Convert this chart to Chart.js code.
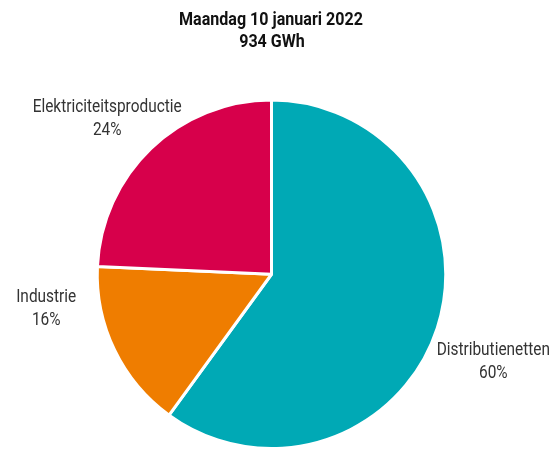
<!DOCTYPE html>
<html>
<head>
<meta charset="utf-8">
<script src="https://cdn.jsdelivr.net/npm/chart.js@4"></script>
<style>
html,body{margin:0;padding:0;background:#fff;}
#wrap{position:relative;width:553px;height:450px;}
</style>
</head>
<body>
<div id="wrap"><canvas id="c" width="553" height="450"></canvas></div>
<script>
const categories = ["Distributienetten", "Industrie", "Elektriciteitsproductie"];
const shares = [60.0, 15.7, 24.3];
const titleLines = ["Maandag 10 januari 2022", "934 GWh"];
const colors = ["#00a9b5", "#ef7d00", "#d7004b"];

const FONT = 'Roboto, "Liberation Sans", sans-serif';
const LABEL_FONT = '19px ' + FONT;
const TITLE_FONT = 'bold 19px ' + FONT;

// condensed look: horizontal squeeze factor for the installed font
function squeezeFor(ctx, font, sample, target) {
  ctx.save();
  ctx.font = font;
  const w = ctx.measureText(sample).width;
  ctx.restore();
  return target / w;
}

function drawText(ctx, text, x, y, sx) {
  ctx.save();
  ctx.translate(x, y);
  ctx.scale(sx, 1);
  ctx.fillText(text, 0, 0);
  ctx.restore();
}

// label block centres relative to pie centre, in units of the radius
const labelPos = [
  {x: 1.273, y: 0.50},
  {x: -1.293, y: 0.198},
  {x: -0.943, y: -0.894}
];

const labelPlugin = {
  id: 'sliceLabels',
  afterDatasetsDraw(chart) {
    const ctx = chart.ctx;
    const meta = chart.getDatasetMeta(0);
    const sx = squeezeFor(ctx, LABEL_FONT, 'Elektriciteitsproductie', 149);
    ctx.save();
    ctx.font = LABEL_FONT;
    ctx.fillStyle = '#333';
    ctx.textAlign = 'center';
    ctx.textBaseline = 'middle';
    meta.data.forEach((arc, i) => {
      const r = arc.outerRadius;
      const cx = arc.x + labelPos[i].x * r;
      const cy = arc.y + labelPos[i].y * r;
      drawText(ctx, categories[i], cx, cy - 11.5, sx);
      drawText(ctx, Math.round(shares[i]) + '%', cx, cy + 11.5, sx);
    });
    ctx.restore();
  }
};

const titlePlugin = {
  id: 'topTitle',
  afterDraw(chart) {
    const ctx = chart.ctx;
    const sx = squeezeFor(ctx, TITLE_FONT, titleLines[0], 184);
    ctx.save();
    ctx.font = TITLE_FONT;
    ctx.fillStyle = '#111';
    ctx.textAlign = 'center';
    ctx.textBaseline = 'middle';
    drawText(ctx, titleLines[0], 271, 20, sx);
    drawText(ctx, titleLines[1], 272, 42, sx);
    ctx.restore();
  }
};

new Chart(document.getElementById('c'), {
  type: 'pie',
  data: {
    labels: categories,
    datasets: [{
      data: shares,
      backgroundColor: colors,
      borderColor: '#fff',
      borderWidth: 3,
      hoverOffset: 0
    }]
  },
  options: {
    responsive: false,
    animation: false,
    events: [],
    layout: {padding: {top: 98.5, bottom: 0, left: 0, right: 10}},
    plugins: {
      legend: {display: false},
      tooltip: {enabled: false},
      title: {display: false}
    }
  },
  plugins: [labelPlugin, titlePlugin]
});
</script>
</body>
</html>
